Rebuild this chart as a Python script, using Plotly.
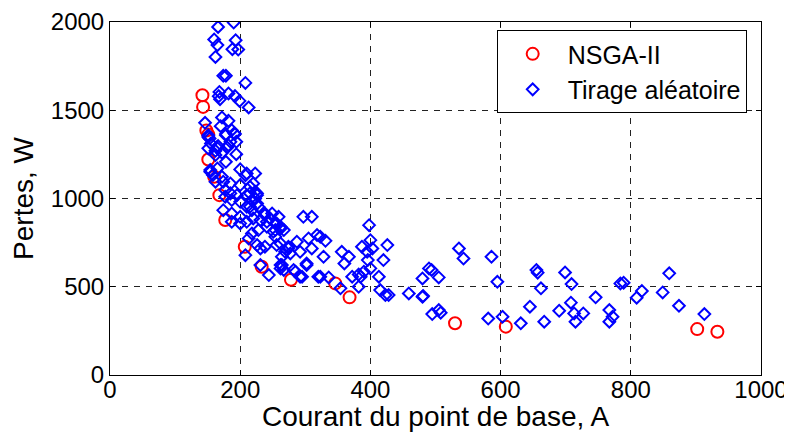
import plotly.graph_objects as go

# NSGA-II front
nsga_x = [142, 143, 148, 151, 151, 160, 168, 177, 207, 233, 278, 346, 368, 530, 608, 902, 933]
nsga_y = [1585, 1519, 1385, 1362, 1221, 1123, 1019, 878, 727, 613, 540, 519, 440, 293, 274, 260, 245]

# random draws
rand_x = [190, 166, 160, 193, 165, 188, 197, 162, 174, 178, 208, 168, 167, 182, 192, 199, 213,
          146, 172, 182, 170, 187, 178, 192, 151, 169, 194, 185, 164, 180, 153,
          151, 178, 191, 155, 166, 182, 162, 172, 194, 178, 154, 165, 158, 172, 200, 210, 223,
          162, 174, 185, 200, 215, 223, 177, 185, 195, 210, 226, 218, 226, 215, 228, 200, 187,
          177, 174, 187, 200, 187, 200, 210, 220, 238, 246, 256, 241, 228, 218, 213, 226, 238,
          254, 256, 208, 151, 162, 154,
          208, 220, 215, 226, 223, 210, 218, 238, 297, 310, 231, 241, 254, 262, 251, 267, 287,
          305, 310, 318, 274, 269, 264, 277, 302, 262, 267, 285, 231, 244, 292, 320, 231,
          249, 259, 262, 254, 262, 274, 292, 323, 331, 328, 264, 262, 302, 282, 295, 323, 336,
          356, 367, 360, 372, 354, 382, 385, 387, 398, 400, 395, 403, 396, 400, 413, 426, 420,
          415, 423, 428, 459, 480, 480, 490, 390, 382,
          536, 543, 586, 494, 505, 481, 495, 505, 508, 595, 603, 581, 631, 645, 655, 657, 662,
          667, 690, 699, 709, 708, 713, 715, 727, 746, 767, 772, 767, 784,
          789, 809, 817, 849, 859, 874, 913]
rand_y = [1997, 1972, 1901, 1897, 1869, 1846, 1844, 1802, 1695, 1695, 1655, 1604, 1580, 1595, 1580, 1553, 1516,
          1429, 1459, 1440, 1410, 1387, 1365, 1365, 1349, 1563, 1321, 1321, 1289, 1289, 1340,
          1359, 1359, 1369, 1312, 1297, 1302, 1270, 1259, 1251, 1208, 1161, 1170, 1133, 1123, 1165, 1142, 1142,
          1095, 1095, 1085, 1076, 1066, 1038, 1048, 1029, 1019, 1019, 1019, 991, 972, 953, 953, 981, 991,
          1010, 934, 915, 896, 868, 859, 868, 887, 906, 887, 859, 840, 821, 802, 774, 736, 727,
          783, 736, 679, 1284, 1246, 1151,
          1132, 1085, 1029, 1029, 1000, 953, 934, 915, 896, 896, 878, 868, 859, 830, 811, 821, 755,
          774, 717, 793, 727, 698, 670, 689, 623, 623, 595, 585, 717, 566, 557, 557, 623,
          915, 896, 840, 821, 745, 717, 698, 783, 760, 670, 623, 604, 632, 595, 557, 557, 553,
          698, 670, 632, 557, 491, 500, 557, 727, 849, 764, 698, 717, 651, 604, 557, 736, 651,
          481, 453, 453, 462, 547, 443, 604, 585, 570,
          717, 660, 670, 595, 553, 447, 345, 368, 353, 528, 330, 320, 293, 387, 595, 580, 491,
          302, 364, 581, 515, 410, 349, 302, 349, 440, 368, 330, 302, 519,
          523, 438, 476, 468, 576, 392, 345]

fig = go.Figure()
fig.add_trace(go.Scatter(
    x=nsga_x, y=nsga_y, mode='markers', name='NSGA-II',
    marker=dict(symbol='circle-open', size=12, color='#ff0000', line=dict(width=2, color='#ff0000')),
))
fig.add_trace(go.Scatter(
    x=rand_x, y=rand_y, mode='markers', name='Tirage aléatoire',
    marker=dict(symbol='diamond-open', size=9, color='#0000ff', line=dict(width=2, color='#0000ff')),
))

axis_style = dict(
    showline=True, linecolor='black', linewidth=1, mirror='ticks',
    ticks='inside', ticklen=5, tickcolor='black',
    showgrid=True, gridcolor='#222222', griddash='6px,6px', gridwidth=1,
    zeroline=False, automargin=False,
    tickfont=dict(size=24, color='black'),
)

fig.update_xaxes(range=[0, 1000], dtick=200, ticklabelstandoff=-7, **axis_style)
fig.update_yaxes(range=[0, 2000], dtick=500,
                 title=dict(text='Pertes, W', font=dict(size=28, color='black')),
                 **axis_style)

# x title as annotation so it sits clear of the tick labels
fig.add_annotation(text='Courant du point de base, A', xref='paper', yref='paper',
                   x=0.5, y=-0.118, xanchor='center', yanchor='middle',
                   showarrow=False, font=dict(size=28, color='black'))

# page body has an 8px margin, so figure is 8px smaller than the window
fig.update_layout(
    width=784, height=429,
    font=dict(family='Liberation Sans, Arial, sans-serif', color='black'),
    paper_bgcolor='white', plot_bgcolor='white',
    margin=dict(l=102, r=31, t=14, b=62),
    showlegend=True,
    legend=dict(x=0.594, y=0.977, xanchor='left', yanchor='top',
                bgcolor='white', bordercolor='black', borderwidth=1,
                font=dict(size=25, color='black'), itemwidth=60, tracegroupgap=0),
)

fig.write_html("out.html")
